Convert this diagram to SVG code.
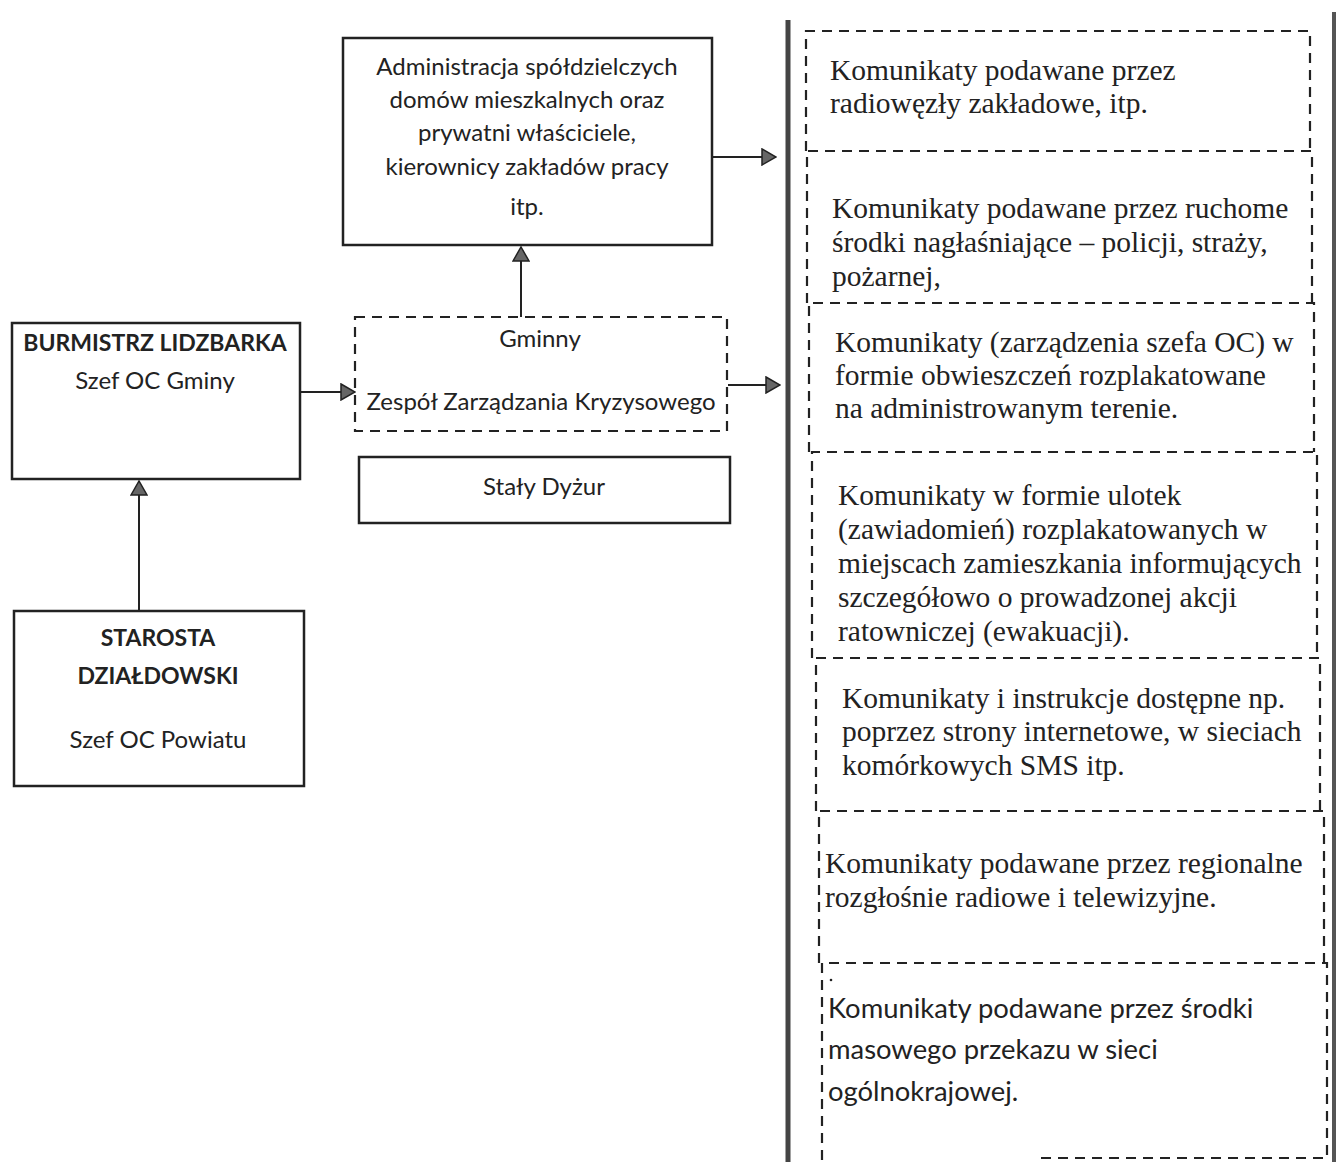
<svg xmlns="http://www.w3.org/2000/svg" width="1338" height="1162" viewBox="0 0 1338 1162">
<style>
.box{fill:#fff;stroke:#222;stroke-width:2.5}
.dbox{fill:none;stroke:#222;stroke-width:2.2;stroke-dasharray:10 7}
.sans{font-family:Lato,"Liberation Sans",sans-serif;font-size:24px;fill:#222}
.b{font-weight:bold;font-size:23px}
.serif{font-family:"Liberation Serif","DejaVu Serif",serif;font-size:29.5px;fill:#222}
.sans2{font-family:Lato,"Liberation Sans",sans-serif;font-size:27.4px;fill:#222}
.conn{stroke:#222;stroke-width:2;fill:none;marker-end:url(#ah)}
</style>
<defs>
<marker id="ah" markerWidth="16" markerHeight="18" refX="15" refY="9" orient="auto" markerUnits="userSpaceOnUse">
<path d="M1,1 L15,9 L1,17 Z" fill="#666" stroke="#222" stroke-width="1.5"/>
</marker>
</defs>
<rect width="1338" height="1162" fill="#fff"/>
<g id="frame">
<line x1="788" y1="20" x2="788" y2="1162" stroke="#444" stroke-width="5"/>
<line x1="1334" y1="12" x2="1334" y2="1162" stroke="#555" stroke-width="4"/>
</g>
<g id="node-admin">
<rect class="box" x="343" y="38" width="369" height="207"/>
<text class="sans" text-anchor="middle" x="527" y="75">Administracja spółdzielczych</text>
<text class="sans" text-anchor="middle" x="527" y="108">domów mieszkalnych oraz</text>
<text class="sans" text-anchor="middle" x="527" y="141">prywatni właściciele,</text>
<text class="sans" text-anchor="middle" x="527" y="175">kierownicy zakładów pracy</text>
<text class="sans" text-anchor="middle" x="527" y="215">itp.</text>
</g>
<g id="node-gzzk">
<rect class="dbox" x="355" y="317" width="372" height="114"/>
<text class="sans" text-anchor="middle" x="540" y="347">Gminny</text>
<text class="sans" text-anchor="middle" x="541" y="410">Zespół Zarządzania Kryzysowego</text>
</g>
<g id="node-dyzur">
<rect class="box" x="359" y="457" width="371" height="66"/>
<text class="sans" text-anchor="middle" x="544" y="495">Stały Dyżur</text>
</g>
<g id="node-burmistrz">
<rect class="box" x="12" y="323" width="288" height="156"/>
<text class="sans b" text-anchor="middle" x="155" y="351">BURMISTRZ LIDZBARKA</text>
<text class="sans" text-anchor="middle" x="155" y="389">Szef OC Gminy</text>
</g>
<g id="node-starosta">
<rect class="box" x="14" y="611" width="290" height="175"/>
<text class="sans b" text-anchor="middle" x="158" y="646">STAROSTA</text>
<text class="sans b" text-anchor="middle" x="158" y="684">DZIAŁDOWSKI</text>
<text class="sans" text-anchor="middle" x="158" y="748">Szef OC Powiatu</text>
</g>
<g id="node-k1">
<path class="dbox" d="M806,151 V31 H1310 V151"/>
<text class="serif" x="830" y="80">Komunikaty podawane przez</text>
<text class="serif" x="830" y="113">radiowęzły zakładowe, itp.</text>
</g>
<g id="node-k2">
<path class="dbox" d="M807,303 V151 H1312 V303"/>
<text class="serif" x="832" y="218">Komunikaty podawane przez  ruchome</text>
<text class="serif" x="832" y="252">środki nagłaśniające – policji, straży,</text>
<text class="serif" x="832" y="286">pożarnej,</text>
</g>
<g id="node-k3">
<path class="dbox" d="M809,452 V303 H1314 V452"/>
<text class="serif" x="835" y="352">Komunikaty (zarządzenia szefa OC) w</text>
<text class="serif" x="835" y="385">formie obwieszczeń rozplakatowane</text>
<text class="serif" x="835" y="418">na administrowanym terenie.</text>
</g>
<g id="node-k4">
<path class="dbox" d="M812,658 V452 H1317 V658"/>
<text class="serif" x="838" y="505">Komunikaty w formie ulotek</text>
<text class="serif" x="838" y="539">(zawiadomień) rozplakatowanych w</text>
<text class="serif" x="838" y="573">miejscach zamieszkania informujących</text>
<text class="serif" x="838" y="607">szczegółowo o  prowadzonej akcji</text>
<text class="serif" x="838" y="641">ratowniczej (ewakuacji).</text>
</g>
<g id="node-k5">
<path class="dbox" d="M816,811 V658 H1320 V811"/>
<text class="serif" x="842" y="708">Komunikaty i instrukcje dostępne np.</text>
<text class="serif" x="842" y="741">poprzez strony internetowe, w sieciach</text>
<text class="serif" x="842" y="775">komórkowych SMS itp.</text>
</g>
<g id="node-k6">
<path class="dbox" d="M819,963 V811 H1324 V963"/>
<text class="serif" x="825" y="873">Komunikaty podawane przez regionalne</text>
<text class="serif" x="825" y="907">rozgłośnie radiowe i telewizyjne.</text>
</g>
<g id="node-k7">
<path class="dbox" d="M822,1160 V963 H1327 V1158 H1040"/>
<circle cx="831" cy="980" r="1.3" fill="#222"/>
<text class="sans2" x="828" y="1018">Komunikaty podawane przez środki</text>
<text class="sans2" x="828" y="1059">masowego przekazu w sieci</text>
<text class="sans2" x="828" y="1101">ogólnokrajowej.</text>
</g>
<g id="connectors">
<line class="conn" x1="713" y1="157" x2="776" y2="157"/>
<line class="conn" x1="521" y1="317" x2="521" y2="247"/>
<line class="conn" x1="728" y1="385" x2="780" y2="385"/>
<line class="conn" x1="301" y1="392" x2="355" y2="392"/>
<line class="conn" x1="139" y1="610" x2="139" y2="481"/>
</g>
</svg>
